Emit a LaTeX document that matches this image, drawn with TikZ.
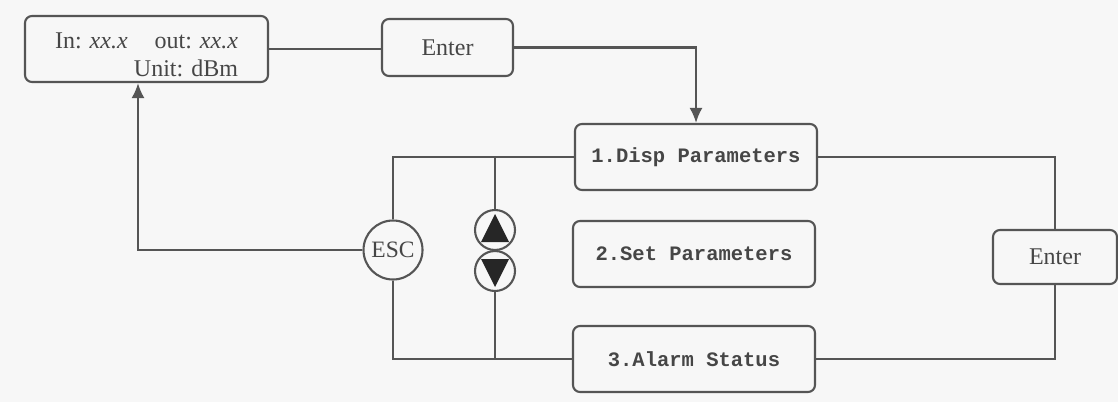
\documentclass[tikz,border=0pt]{standalone}
\usepackage{fontspec}
\setmainfont{Liberation Serif}
\newfontfamily\menufont{Liberation Mono}
\usetikzlibrary{arrows.meta,positioning}
\definecolor{bgcol}{RGB}{247,247,247}
\definecolor{linecol}{RGB}{85,85,85}
\definecolor{textcol}{RGB}{70,70,70}
\newcommand\lcdtextstyle{\fontsize{24}{28}\selectfont}
\newcommand\menutextstyle{\fontsize{20.5}{24}\selectfont\menufont\bfseries}
\newcommand\keytip{{Latex[length=15pt,width=13pt]}}
\tikzset{
  lcdbox/.style={draw, rounded corners=7pt, minimum width=243pt, minimum height=66pt,
    align=right, text=textcol, font=\lcdtextstyle},
  keybox/.style={draw, rounded corners=7pt, minimum width=131pt, minimum height=57pt,
    text=textcol, font=\lcdtextstyle},
  menubox/.style={draw, rounded corners=7pt, minimum width=242pt, minimum height=66pt,
    text=textcol, font=\menutextstyle},
  esckey/.style={draw, circle, minimum size=59pt, inner sep=0pt, text=textcol,
    font=\fontsize{23.5}{24}\selectfont},
  arrowkey/.style={draw, circle, minimum size=40pt, inner sep=0pt},
  keyarrow/.style={fill=linecol!45!black}
}
\begin{document}
\begin{tikzpicture}[x=1pt, y=-1pt, line width=2.1pt, color=linecol]
  \fill[bgcol] (0,0) rectangle (1118,402);
  \useasboundingbox (0,0) rectangle (1118,402);
  \node[lcdbox] (lcd) at (146.5,49)
    {\rule{0pt}{28pt}In: \textit{xx.x}\hspace{27pt}out: \textit{xx.x}\\Unit: dBm};
  \node[keybox] (enterA) at (447.5,47.5) {Enter};
  \node[menubox] (disp) at (696,157) {1.Disp Parameters};
  \node[menubox] (set) at (694,254) {2.Set Parameters};
  \node[menubox] (alarm) at (694,359) {3.Alarm Status};
  \node[keybox, minimum width=124pt, minimum height=54pt] (enterB) at (1055,257) {Enter};
  \node[esckey] (esc) at (393,250) {ESC};
  \node[arrowkey] (up) at (495,230) {};
  \node[arrowkey] (down) at (495,271) {};
  \fill[keyarrow] ([yshift=16pt]up.center) -- ([xshift=-14pt,yshift=-12pt]up.center)
    -- ([xshift=14pt,yshift=-12pt]up.center) -- cycle;
  \fill[keyarrow] ([yshift=-16pt]down.center) -- ([xshift=-14pt,yshift=12pt]down.center)
    -- ([xshift=14pt,yshift=12pt]down.center) -- cycle;
  \draw (lcd.east) -- (lcd.east -| enterA.west);
  \draw[-\keytip] (enterA.east) -| (disp.north);
  \draw (disp.east) -| (enterB.north);
  \draw (enterB.south) |- (alarm.east);
  \draw (disp.west) -| (esc.north);
  \draw (esc.south) |- (alarm.west);
  \draw (up.north) -- (up.north |- disp.west);
  \draw (down.south) -- (down.south |- alarm.west);
  \draw[-\keytip] (esc.west) -| ([xshift=-8.5pt]lcd.south);
\end{tikzpicture}
\end{document}
